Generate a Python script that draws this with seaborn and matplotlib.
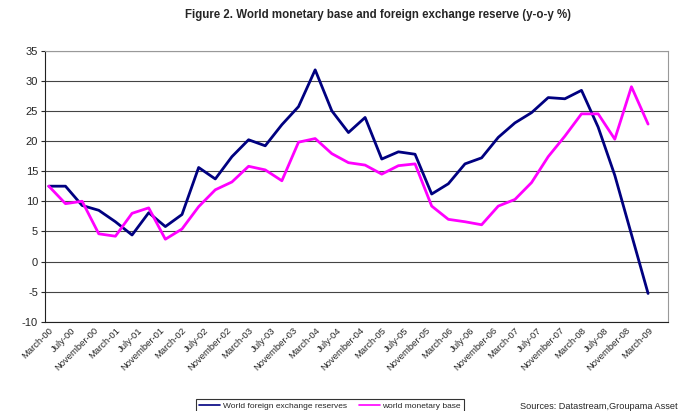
import matplotlib
matplotlib.use("Agg")
import matplotlib.pyplot as plt
from matplotlib.lines import Line2D
import numpy as np
import pandas as pd
import seaborn as sns

# quarterly observations, March-00 .. March-09
quarters = list(range(37))
fx_reserves = [12.5, 12.5, 9.3, 8.5, 6.6, 4.4, 8.1, 5.8, 7.8, 15.6, 13.7, 17.4,
               20.2, 19.2, 22.7, 25.7, 31.8, 25.0, 21.4, 23.9, 17.0, 18.2, 17.8, 11.2,
               12.9, 16.2, 17.2, 20.6, 23.0, 24.7, 27.2, 27.0, 28.4, 22.3, 14.3, 4.5, -5.3]
monetary_base = [12.5, 9.6, 10.0, 4.6, 4.2, 8.0, 8.9, 3.7, 5.4, 9.1, 11.9, 13.2,
                 15.8, 15.2, 13.4, 19.8, 20.4, 17.9, 16.4, 16.0, 14.5, 15.9, 16.2, 9.2,
                 7.0, 6.6, 6.1, 9.2, 10.3, 13.1, 17.4, 20.8, 24.5, 24.5, 20.3, 29.0, 22.8]

# tick labels every 4 months
tick_labels = []
for yr in range(0, 10):
    for m in ["March", "July", "November"]:
        tick_labels.append(f"{m}-{yr:02d}")
tick_labels = tick_labels[:28]

df = pd.DataFrame({
    "month": [q * 3 for q in quarters] * 2,
    "value": fx_reserves + monetary_base,
    "series": ["World foreign exchange reserves"] * 37 + ["world monetary base"] * 37,
})

sns.set_style("white")
plt.rcParams["font.family"] = ["Liberation Sans", "DejaVu Sans"]
plt.rcParams["axes.unicode_minus"] = False

fig = plt.figure(figsize=(6.81, 4.11), dpi=100)
ax = fig.add_axes([0.066, 0.217, 0.915, 0.66])

palette = {"World foreign exchange reserves": "#000080", "world monetary base": "#FF00FF"}
sns.lineplot(data=df, x="month", y="value", hue="series", palette=palette,
             linewidth=2.0, ax=ax, legend=False, zorder=3)

ax.set_ylim(-10, 35)
ax.set_yticks(range(-10, 36, 5))
ax.set_xlim(-0.7, 111.6)
ax.set_xticks([4 * k for k in range(28)])
ax.set_xticklabels(tick_labels, rotation=45, ha="right", rotation_mode="anchor", fontsize=6.8)
ax.tick_params(axis="y", labelsize=8, length=3, left=True, width=0.8, pad=2)
ax.tick_params(axis="x", length=0, pad=3)
ax.grid(axis="y", color="#444444", linewidth=0.8)
ax.set_axisbelow(True)
ax.set_xlabel("")
ax.set_ylabel("")
for s in ["top", "right"]:
    ax.spines[s].set_color("#999999")
    ax.spines[s].set_linewidth(0.8)
for s in ["left", "bottom"]:
    ax.spines[s].set_color("#222222")
    ax.spines[s].set_linewidth(0.8)

fig.text(0.555, 0.963, "Figure 2. World monetary base and foreign exchange reserve (y-o-y %)",
         ha="center", va="center", fontsize=8.3, fontweight="bold")

handles = [Line2D([0], [0], color="#000080", lw=1.2),
           Line2D([0], [0], color="#FF00FF", lw=1.2)]
leg = fig.legend(handles, ["World foreign exchange reserves", "world monetary base"],
                 loc="center", bbox_to_anchor=(330 / 681, 1 - 406 / 411), ncol=2,
                 fontsize=6, frameon=True, fancybox=False, edgecolor="black",
                 handlelength=2.5, columnspacing=1.5, borderpad=0.4, handletextpad=0.3)
leg.get_frame().set_linewidth(0.8)

fig.text(678 / 681, 1 - 406 / 411, "Sources: Datastream,Groupama Asset",
         ha="right", va="center", fontsize=6.6)

fig.savefig("out.png", dpi=100)
